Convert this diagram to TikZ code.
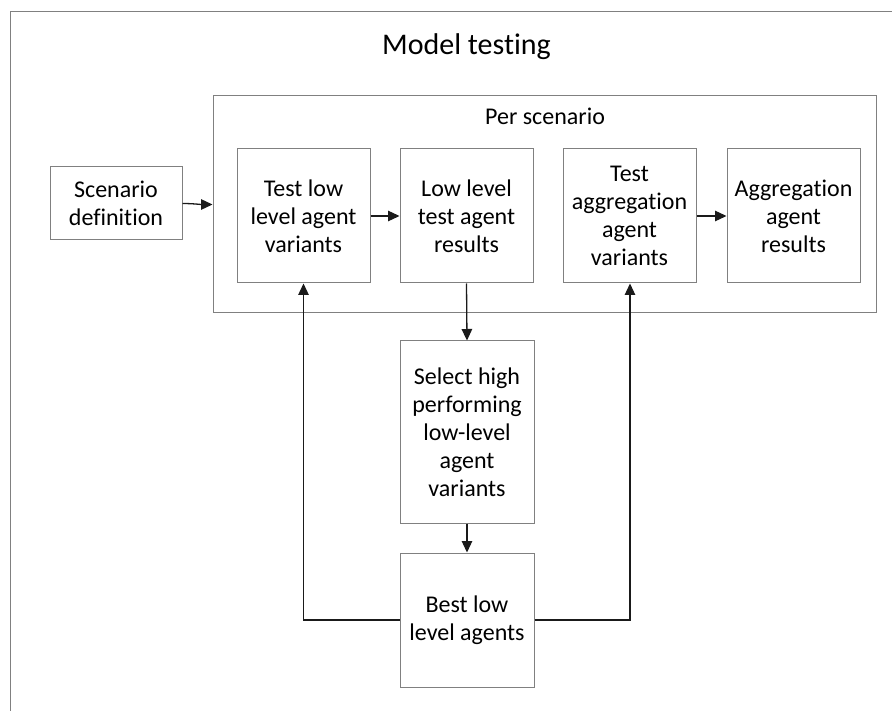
\documentclass[tikz,border=0pt]{standalone}
\usepackage{fontspec}
\setmainfont{Carlito}[Ligatures=CommonOff]
\usetikzlibrary{arrows.meta}
\definecolor{framegray}{HTML}{808080}
\definecolor{linedark}{HTML}{1A1A1A}
\begin{document}
\begin{tikzpicture}[x=1pt,y=-1pt,
  box/.style={draw=framegray, line width=1pt, inner sep=0pt, align=center,
    minimum width=133pt, font=\fontsize{24}{28}\selectfont},
  conn/.style={draw=linedark, line width=1.3pt,
    -{Triangle[length=11.5pt,width=10.5pt]}}]
  \useasboundingbox (0,0) rectangle (892,711);
  \clip (0,0) rectangle (892,711);
  \fill[white] (0,0) rectangle (892,711);

  % outer frame, running past the right and bottom edges
  \draw[framegray, line width=1pt] (10,12) rectangle (905,725);
  \node[anchor=base, font=\fontsize{30}{35}\selectfont] (title) at (466.5,55) {Model testing};

  % per-scenario container
  \node[draw=framegray, line width=1pt, minimum width=663pt, minimum height=217pt,
        inner sep=0pt] (per) at (544.5,204.5) {};
  \node[anchor=base, font=\fontsize{24}{28}\selectfont] (perlabel) at (545,125) {Per scenario};

  \node[box, minimum width=132pt, minimum height=73pt] (scen) at (116,203.5) {Scenario\\definition};
  \node[box, minimum height=134pt] (tlow) at (303.5,216) {Test low\\level agent\\variants};
  \node[box, minimum height=134pt] (lres) at (466.5,216) {Low level\\test agent\\results};
  \node[box, minimum height=134pt] (tagg) at (629.5,216) {Test\\aggregation\\agent\\variants};
  \node[box, minimum height=134pt] (ares) at (793.5,216) {Aggregation\\agent\\results};
  \node[box, minimum width=134pt, minimum height=182pt] (sel) at (467,432)
       {Select high\\performing\\low-level\\agent\\variants};
  \node[box, minimum width=134pt, minimum height=134pt] (best) at (467,620) {Best low\\level agents};

  % connectors
  \draw[conn] (scen.east) .. controls +(10,0) and +(-12,0) .. (per.west);
  \draw[conn] (tlow) -- (lres);
  \draw[conn] (tagg) -- (ares);
  \draw[conn] (lres.south) -- (sel.north);
  \draw[conn] (sel) -- (best);
  \coordinate (bl) at (303.5,620);
  \coordinate (br) at (630,620);
  \draw[conn] (best.west) -- (bl) -- (tlow.south);
  \draw[conn] (best.east) -- (br) -- (br |- tagg.south);
\end{tikzpicture}
\end{document}
